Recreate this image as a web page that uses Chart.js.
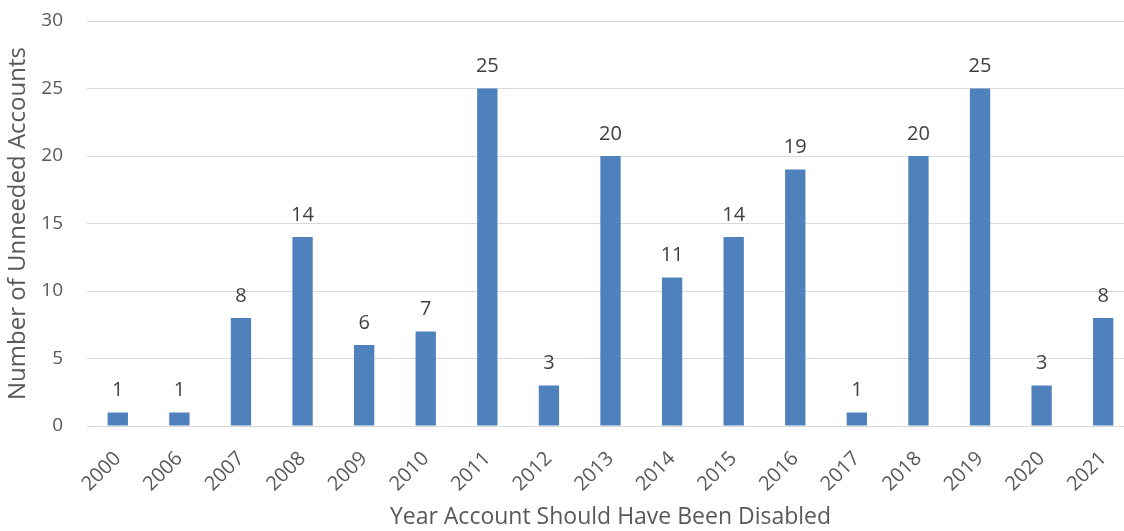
<!DOCTYPE html>
<html>
<head>
<meta charset="utf-8">
<script src="https://cdn.jsdelivr.net/npm/chart.js@4"></script>
<style>
  html, body { margin: 0; padding: 0; background: #fff; overflow: hidden; }
  #wrap { width: 1134px; height: 531px; }
</style>
</head>
<body>
<div id="wrap"><canvas id="chart"></canvas></div>
<script>
// data
let years = ["2000","2006","2007","2008","2009","2010","2011","2012","2013","2014","2015","2016","2017","2018","2019","2020","2021"]
let accounts = [1,1,8,14,6,7,25,3,20,11,14,19,1,20,25,3,8]
let yTicks = [0,5,10,15,20,25,30]

let textColor = "#595959"
let fontFamily = "'Open Sans', sans-serif"

// draw the number above each bar
let barLabels = {
    id: 'barLabels',
    afterDatasetsDraw(chart) {
        let ctx = chart.ctx
        let meta = chart.getDatasetMeta(0)
        ctx.save()
        ctx.font = "20px " + fontFamily
        ctx.fillStyle = "#404040"
        ctx.textAlign = "center"
        ctx.textBaseline = "bottom"
        meta.data.forEach((bar, i) => {
            ctx.fillText(accounts[i], bar.x, bar.y - 12)
        })
        ctx.restore()
    }
}

new Chart(document.getElementById("chart"), {
    type: 'bar',
    data: {
        labels: years,
        datasets: [{
            label: "Unneeded Accounts",
            data: accounts,
            backgroundColor: "#4f81bd",
            barPercentage: 0.33,
            categoryPercentage: 1
        }]
    },
    options: {
        responsive: true,
        maintainAspectRatio: false,
        animation: false,
        layout: { padding: { left: 4, right: 0, top: 10, bottom: 0 } },
        plugins: {
            legend: { display: false },
            tooltip: { enabled: false }
        },
        scales: {
            x: {
                afterFit: scale => {
                    scale.height = 105
                    scale.paddingLeft = 0
                    scale.paddingRight = 0
                },
                grid: { display: false, drawTicks: false },
                border: { color: "#d9d9d9", width: 1 },
                ticks: {
                    color: textColor,
                    font: { family: fontFamily, size: 20 },
                    maxRotation: 45,
                    minRotation: 45,
                    padding: 21
                },
                title: {
                    display: true,
                    text: "Year Account Should Have Been Disabled",
                    color: textColor,
                    font: { family: fontFamily, size: 23 },
                    padding: { top: 0, bottom: 0 }
                }
            },
            y: {
                min: 0,
                max: 30,
                afterBuildTicks: axis => { axis.ticks = yTicks.map(v => ({ value: v })) },
                afterFit: scale => {
                    scale.width = 83
                    scale.paddingTop = 21
                },
                grid: { color: "#d9d9d9", drawTicks: false },
                border: { display: false },
                ticks: {
                    color: textColor,
                    font: { family: fontFamily, size: 19 },
                    padding: 24
                },
                title: {
                    display: true,
                    text: "Number of Unneeded Accounts",
                    color: textColor,
                    font: { family: fontFamily, size: 24 },
                    padding: { top: 0, bottom: 0 }
                }
            }
        }
    },
    plugins: [barLabels]
})
</script>
</body>
</html>
